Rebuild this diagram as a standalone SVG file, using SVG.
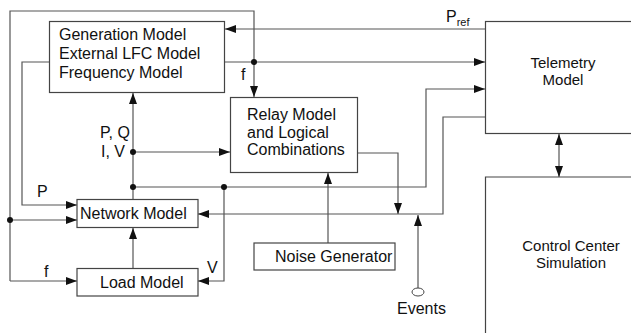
<svg xmlns="http://www.w3.org/2000/svg" width="631" height="333" viewBox="0 0 631 333">
  <defs>
    <marker id="arrow" markerUnits="userSpaceOnUse" markerWidth="11" markerHeight="8" refX="11" refY="4" orient="auto">
      <path d="M0,0 L11,4 L0,8 z" fill="#111"/>
    </marker>
    <marker id="arrowStart" markerUnits="userSpaceOnUse" markerWidth="11" markerHeight="8" refX="0" refY="4" orient="auto">
      <path d="M11,0 L0,4 L11,8 z" fill="#111"/>
    </marker>
    <style>
      .box { fill: #fff; stroke: #444; stroke-width: 1.2; }
      .line { fill: none; stroke: #555; stroke-width: 1.2; }
      .arr { marker-end: url(#arrow); }
      .dot { fill: #111; }
      text { font-family: "Liberation Sans", Arial, sans-serif; font-size: 16px; fill: #111; }
      .mid { text-anchor: middle; }
      .big { font-size: 15px; }
    </style>
  </defs>

  <g id="connectors">
    <!-- outer loop: frequency feedback to relay, network and load -->
    <path class="line arr" d="M10,220 V11 H254 V97"/>
    <path class="line arr" d="M10,220 H77"/>
    <path class="line arr" d="M10,281 V220 M10,281 H77"/>
    <!-- generation output to telemetry -->
    <path class="line arr" d="M224,62 H485"/>
    <!-- Pref from telemetry -->
    <path class="line arr" d="M485,29 H225"/>
    <!-- generation P to network -->
    <path class="line arr" d="M49,62 H22 V205 H77"/>
    <!-- network P,Q / I,V up to generation -->
    <path class="line arr" d="M133,199 V93"/>
    <!-- I,V to relay -->
    <path class="line arr" d="M133,152 H230"/>
    <!-- network bus to telemetry -->
    <path class="line arr" d="M133,187 H426 V89 H485"/>
    <!-- V to load model -->
    <path class="line arr" d="M224,187 V281 H198"/>
    <!-- relay output to network input bus -->
    <path class="line arr" d="M357,153 H398 V214"/>
    <!-- telemetry commands back to network -->
    <path class="line arr" d="M485,117 H443 V214 H198"/>
    <!-- noise to relay -->
    <path class="line arr" d="M328,243 V173"/>
    <!-- events -->
    <path class="line arr" d="M418,288 V215"/>
    <!-- load to network -->
    <path class="line arr" d="M133,268 V228"/>
    <!-- telemetry to control center -->
    <path class="line" d="M559,134 V177" marker-start="url(#arrowStart)" marker-end="url(#arrow)"/>
    <circle class="dot" cx="10" cy="220" r="3"/>
    <circle class="dot" cx="254" cy="62" r="3"/>
    <circle class="dot" cx="133" cy="152" r="3"/>
    <circle class="dot" cx="133" cy="187" r="3"/>
    <circle class="dot" cx="224" cy="187" r="3"/>
    <ellipse cx="418" cy="292" rx="6" ry="4" fill="#fff" stroke="#444" stroke-width="1"/>
    <!-- connector labels -->
    <text x="446" y="22">P<tspan font-size="11" dy="4">ref</tspan></text>
    <text x="241" y="80">f</text>
    <text x="100" y="138">P, Q</text>
    <text x="101" y="157">I, V</text>
    <text x="37" y="197">P</text>
    <text x="44" y="277">f</text>
    <text x="207" y="273">V</text>
    <text x="397" y="314" font-size="18">Events</text>
  </g>

  <g id="generation">
    <rect class="box" x="49.5" y="21.5" width="175" height="71"/>
    <text x="59" y="40">Generation Model</text>
    <text x="59" y="59">External LFC Model</text>
    <text x="59" y="78">Frequency Model</text>
  </g>

  <g id="relay">
    <rect class="box" x="230.5" y="97.5" width="127" height="75"/>
    <text x="247" y="120">Relay Model</text>
    <text x="247" y="137.5">and Logical</text>
    <text x="247" y="155">Combinations</text>
  </g>

  <g id="network">
    <rect class="box" x="77" y="199.5" width="121" height="28"/>
    <text x="80" y="219">Network Model</text>
  </g>

  <g id="load">
    <rect class="box" x="77" y="268.5" width="121" height="27.5"/>
    <text x="100" y="288">Load Model</text>
  </g>

  <g id="noise">
    <rect class="box" x="254" y="243" width="141" height="27"/>
    <text x="275" y="262">Noise Generator</text>
  </g>

  <g id="telemetry">
    <rect class="box" x="485.5" y="21.5" width="150" height="112"/>
    <text class="mid big" x="563" y="68">Telemetry</text>
    <text class="mid big" x="563" y="85">Model</text>
  </g>

  <g id="control-center">
    <path class="box" d="M635,177 H485.5 V340"/>
    <text class="mid big" x="571" y="251">Control Center</text>
    <text class="mid big" x="571" y="268">Simulation</text>
  </g>
</svg>
